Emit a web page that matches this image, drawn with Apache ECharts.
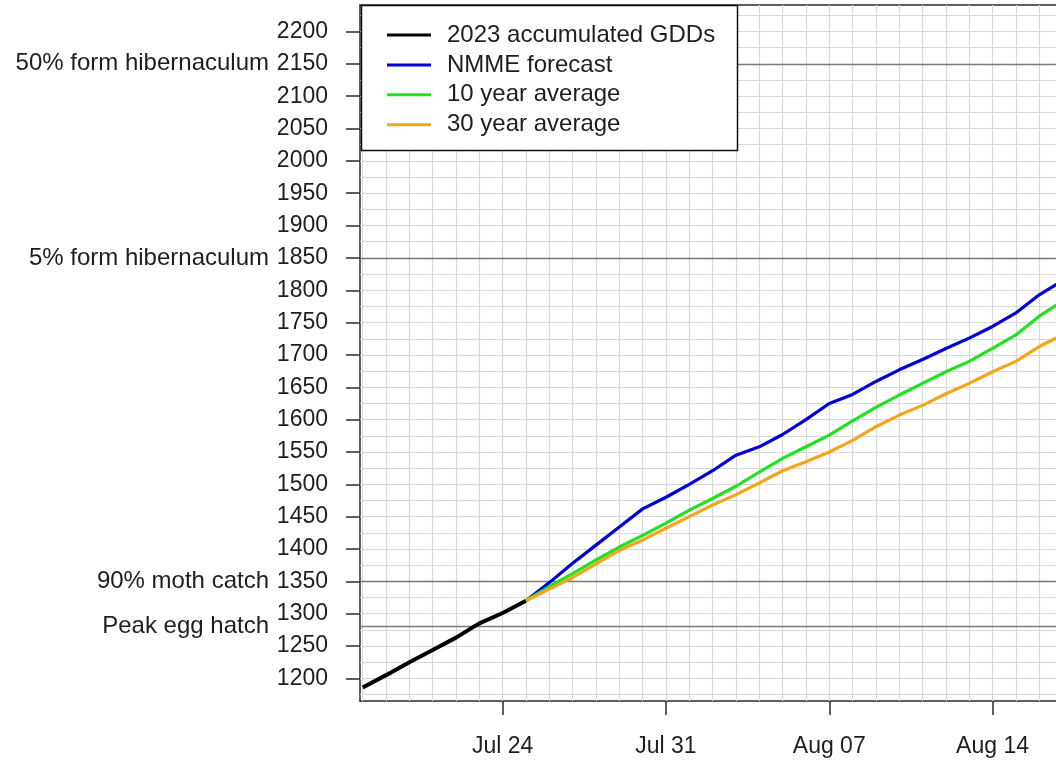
<!DOCTYPE html>
<html><head><meta charset="utf-8">
<script src="https://cdn.jsdelivr.net/npm/echarts@6/dist/echarts.min.js"></script>
<style>html,body{margin:0;padding:0;background:#fff}#c{width:1056px;height:761px}</style>
</head><body><div id="c"></div>
<script>
// days counted from Jul 18
const obsDays = [0,1,2,3,4,5,6,7];
const obsGDD  = [1186,1205,1225,1244,1263,1285,1301,1320];
const fcDays  = [7,8,9,10,11,12,13,14,15,16,17,18,19,20,21,22,23,24,25,26,27,28,29,30];
const nmme    = [1320,1348,1378,1406,1434,1462,1480,1500,1521,1545,1558,1577,1600,1625,1639,1659,1677,1693,1710,1726,1744,1765,1793,1815];
const avg10   = [1320,1342,1362,1383,1403,1421,1440,1460,1478,1497,1519,1540,1558,1576,1598,1619,1638,1656,1674,1690,1710,1731,1760,1783];
const avg30   = [1320,1338,1356,1377,1398,1414,1432,1450,1468,1484,1502,1521,1535,1550,1568,1589,1607,1622,1640,1656,1674,1690,1713,1731];
const yTicks  = [1200,1250,1300,1350,1400,1450,1500,1550,1600,1650,1700,1750,1800,1850,1900,1950,2000,2050,2100,2150,2200];
const xTickDays   = [6,13,20,27];
const xTickLabels = ['Jul 24','Jul 31','Aug 07','Aug 14'];
const thresholds      = [2150,1850,1350,1280];
const thresholdLabels = ['50% form hibernaculum','5% form hibernaculum','90% moth catch','Peak egg hatch'];
const gridDays = [0,1,2,3,4,5,6,7,8,9,10,11,12,13,14,15,16,17,18,19,20,21,22,23,24,25,26,27,28,29];
const gridGDD  = [1175,1200,1225,1250,1275,1300,1325,1350,1375,1400,1425,1450,1475,1500,1525,1550,1575,1600,1625,1650,1675,1700,1725,1750,1775,1800,1825,1850,1875,1900,1925,1950,1975,2000,2025,2050,2075,2100,2125,2150,2175,2200,2225];

const FONT = 'Liberation Sans, Arial, sans-serif';
const TXT = '#1e1e1e';
const pairs = (xs, ys) => xs.map((x, i) => [x, ys[i]]);
const XMIN = -0.116, XMAX = 29.72, YMIN = 1165, YMAX = 2241;

const chart = echarts.init(document.getElementById('c'), null, {renderer: 'canvas'});
const lineBase = {type: 'line', symbol: 'none', showSymbol: false, z: 3, animation: false, clip: true, xAxisIndex: 0, yAxisIndex: 0};

chart.setOption({
  backgroundColor: '#ffffff',
  animation: false,
  textStyle: {fontFamily: FONT},
  grid: {left: 360, right: 0, top: 5, bottom: 60, containLabel: false},
  xAxis: [{
    type: 'value', min: XMIN, max: XMAX, position: 'bottom',
    axisLine: {show: true, lineStyle: {color: '#2a2a2a', width: 1.5}},
    axisTick: {show: true, customValues: xTickDays, length: 14, lineStyle: {color: '#2a2a2a', width: 1.5}},
    axisLabel: {show: true, customValues: xTickDays, margin: 34, fontSize: 23, color: TXT, fontFamily: FONT,
      formatter: v => { const i = xTickDays.indexOf(Math.round(v)); return i >= 0 ? xTickLabels[i] : ''; }},
    splitLine: {show: false}
  }, {
    type: 'value', min: XMIN, max: XMAX, position: 'top',
    axisLine: {show: true, onZero: false, lineStyle: {color: '#2a2a2a', width: 1.5}},
    axisTick: {show: false}, axisLabel: {show: false}, splitLine: {show: false}
  }],
  yAxis: [{
    type: 'value', min: YMIN, max: YMAX, position: 'left',
    axisLine: {show: true, onZero: false, lineStyle: {color: '#2a2a2a', width: 1.5}},
    axisTick: {show: true, customValues: yTicks, length: 14, lineStyle: {color: '#2a2a2a', width: 1.5}},
    axisLabel: {show: true, customValues: yTicks, margin: 32, fontSize: 23, color: TXT, fontFamily: FONT,
      formatter: v => String(Math.round(v))},
    splitLine: {show: false}
  }, {
    type: 'value', min: YMIN, max: YMAX, position: 'left', offset: 0,
    axisLine: {show: false}, axisTick: {show: false}, splitLine: {show: false},
    axisLabel: {show: true, customValues: thresholds, margin: 91, fontSize: 24, color: TXT, fontFamily: FONT,
      formatter: v => { const i = thresholds.indexOf(Math.round(v)); return i >= 0 ? thresholdLabels[i] : ''; }}
  }],
  legend: {
    show: true, orient: 'vertical', left: 382, top: 18, z: 6,
    itemWidth: 44, itemHeight: 3, itemGap: 5.9, icon: 'rect',
    textStyle: {fontSize: 24, color: TXT, fontFamily: FONT, lineHeight: 22, padding: [0, 0, 0, 11]},
    data: ['2023 accumulated GDDs', 'NMME forecast', '10 year average', '30 year average'],
    selectedMode: false
  },
  graphic: [{
    type: 'rect', z: 5, silent: true,
    shape: {x: 361.5, y: 5.5, width: 376, height: 145},
    style: {fill: '#ffffff', stroke: '#111111', lineWidth: 1.5}
  }],
  series: [
    Object.assign({}, lineBase, {
      name: '2023 accumulated GDDs', data: pairs(obsDays, obsGDD),
      itemStyle: {color: '#000000'}, lineStyle: {color: '#000000', width: 4},
      markLine: {silent: true, z: 1, symbol: ['none', 'none'], animation: false, label: {show: false},
        lineStyle: {color: '#d8d8d8', width: 1.2, type: 'solid'},
        data: gridDays.map(d => ({xAxis: d})).concat(gridGDD.map(g => ({yAxis: g})))}
    }),
    Object.assign({}, lineBase, {
      name: 'NMME forecast', data: pairs(fcDays, nmme),
      itemStyle: {color: '#0000d8'}, lineStyle: {color: '#0000d8', width: 3.2},
      markLine: {silent: true, z: 1, symbol: ['none', 'none'], animation: false, label: {show: false},
        lineStyle: {color: '#7a7a7a', width: 1.3, type: 'solid'},
        data: thresholds.map(t => ({yAxis: t}))}
    }),
    Object.assign({}, lineBase, {
      name: '10 year average', data: pairs(fcDays, avg10),
      itemStyle: {color: '#22e022'}, lineStyle: {color: '#22e022', width: 3.2}
    }),
    Object.assign({}, lineBase, {
      name: '30 year average', data: pairs(fcDays, avg30),
      itemStyle: {color: '#f5a51c'}, lineStyle: {color: '#f5a51c', width: 3.2}
    })
  ]
});
</script>
</body></html>
